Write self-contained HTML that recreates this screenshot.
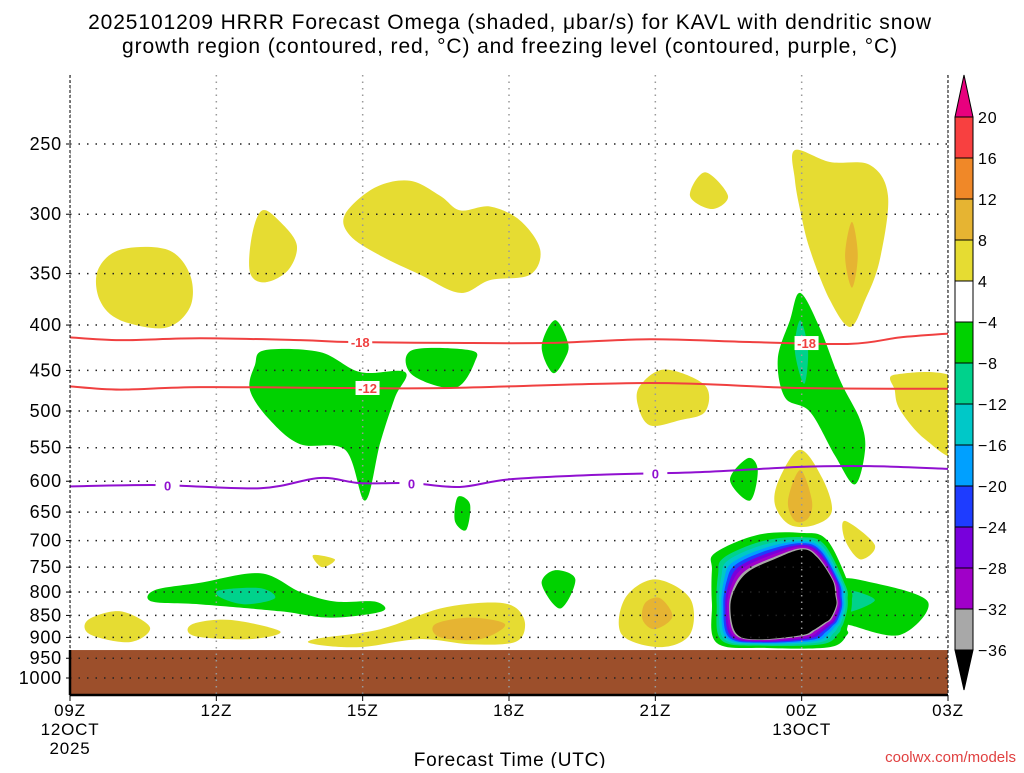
<!DOCTYPE html>
<html><head><meta charset="utf-8"><style>
body{margin:0;background:#fff;font-family:"Liberation Sans",sans-serif}
svg text{font-family:"Liberation Sans",sans-serif}
</style></head><body>
<svg id="c" width="1024" height="768" viewBox="0 0 1024 768">
<text x="510" y="29" font-size="21" letter-spacing="0.9" text-anchor="middle">2025101209 HRRR Forecast Omega (shaded, μbar/s) for KAVL with dendritic snow</text>
<text x="510" y="53" font-size="21" letter-spacing="0.9" text-anchor="middle">growth region (contoured, red, °C) and freezing level (contoured, purple, °C)</text>
<g id="plot"></g>
<text x="510" y="766" font-size="19" letter-spacing="0.8" text-anchor="middle">Forecast Time (UTC)</text>
<text x="1016" y="762" font-size="15" text-anchor="end" fill="#e04040">coolwx.com/models</text>
<g id="cbar"></g>
</svg>
<script>
const pTicks=[250,300,350,400,450,500,550,600,650,700,750,800,850,900,950,1000];
const hTicks=[0,3,6,9,12,15,18];
const hLabels=["09Z","12Z","15Z","18Z","21Z","00Z","03Z"];
const cbLabels=["20","16","12","8","4","−4","−8","−12","−16","−20","−24","−28","−32","−36"];
const cbColors=["#f84040","#f08828","#e6b432","#e6dc32","#ffffff","#00d200","#00d28c","#00c8c8","#00a0ff","#1e3cff","#7800dc","#a000c8","#a8a8a8"];
const groundP=930;
const yellowBlobs=[
[[0.57,347],[1.03,329],[2.0,329],[2.46,351],[2.46,382],[1.95,403],[1.03,395],[0.61,375]],
[[3.94,297],[4.31,306],[4.65,325],[4.47,347],[4.0,358],[3.69,349],[3.73,317]],
[[5.64,300],[6.25,280],[6.97,275],[7.59,286],[8.0,297],[8.61,294],[9.23,305],[9.64,329],[9.43,351],[8.61,356],[8.0,368],[7.18,351],[6.36,334],[5.74,317]],
[[13.02,269],[13.49,286],[13.16,296],[12.71,286]],
[[14.86,254],[15.58,262],[16.4,264],[16.77,286],[16.6,338],[16.3,375],[15.99,402],[15.58,375],[15.17,329],[14.97,297],[14.86,274]],
[[16.91,455],[18.2,462],[18.2,560],[17.53,538],[17.02,499],[16.91,474]],
[[11.69,468],[12.2,449],[13.02,468],[13.02,501],[12.51,512],[11.89,519],[11.64,492]],
[[14.97,553],[15.42,595],[15.62,648],[15.27,672],[14.76,672],[14.45,637],[14.55,595]],
[[15.89,665],[16.5,708],[16.2,735],[15.89,699]],
[[4.98,727],[5.43,735],[5.17,750]],
[[0.37,860],[1.03,841],[1.64,877],[1.23,911],[0.41,893]],
[[2.5,870],[3.28,860],[4.31,886],[3.69,904],[2.56,897]],
[[5.02,904],[6.36,881],[7.59,835],[8.61,822],[9.12,832],[9.33,870],[9.12,911],[8.2,916],[7.18,904],[5.95,923],[5.02,916]],
[[11.38,813],[11.99,774],[12.71,813],[12.71,893],[12.1,923],[11.31,893]]
];
const orangeBlobs=[
[[16.03,306],[16.15,334],[16.03,363],[15.89,334]],
[[14.97,583],[15.21,631],[15.13,661],[14.86,665],[14.72,631]],
[[7.48,870],[8.2,855],[8.92,870],[8.41,904],[7.59,900]],
[[11.79,823],[12.1,813],[12.35,853],[11.99,881],[11.74,860]]
];
const greenBlobs=[
[[3.79,444],[3.99,427],[5.12,429],[5.95,452],[6.87,452],[6.66,483],[6.36,543],[6.05,631],[5.64,553],[4.72,545],[4.1,512],[3.69,474]],
[[7.01,427],[8.2,427],[8.3,440],[7.89,471],[7.01,455]],
[[9.94,395],[10.21,419],[10.15,436],[9.9,453],[9.67,423]],
[[14.97,368],[15.38,404],[15.79,462],[16.2,512],[16.3,553],[16.09,605],[15.68,561],[15.17,501],[14.66,483],[14.51,437],[14.76,395]],
[[13.9,565],[14.1,583],[13.94,631],[13.53,598]],
[[7.95,625],[8.2,637],[8.12,681],[7.89,665]],
[[1.74,796],[2.67,781],[3.9,762],[4.72,800],[5.43,820],[6.25,820],[6.4,841],[5.33,855],[4.31,841],[2.67,826],[1.68,820]],
[[9.94,756],[10.36,774],[10.05,835],[9.67,783]],
[[15.7,778],[16.46,781],[17.59,821],[17.02,894],[16.0,872],[15.7,860]]
];
const tealBlobs=[
[[14.97,395],[15.13,427],[15.05,466],[14.86,427]],
[[3.08,796],[3.9,792],[4.2,813],[3.59,826],[3.08,811]],
[[15.8,795],[16.5,817],[15.8,845]]
];
const coreOuter=[[13.16,755],[13.22,723],[14.08,690],[14.97,686],[15.52,699],[15.99,790],[16.03,817],[16.01,842],[15.95,871],[15.93,882],[15.93,894],[15.58,923],[14.29,925],[13.26,913],[13.16,823]];
const coreInner=[[13.67,790],[13.94,759],[14.45,736],[15.01,717],[15.31,732],[15.62,775],[15.68,806],[15.70,827],[15.58,856],[15.44,867],[15.21,883],[14.97,894],[14.08,904],[13.67,890],[13.55,832]];
const line18=[[0,413],[1.03,416],[2.67,414],[4.72,416],[5.74,418],[7.79,419],[9.84,419],[11.89,415],[13.94,418],[15.99,420],[17.02,413],[18,409]];
const line12=[[0,469],[1.03,473],[2.67,470],[5.74,471],[7.79,471],[11.89,465],[14.97,471],[18,472]];
const line0=[[0,608],[1.85,606],[3.9,611],[5.12,595],[5.95,603],[6.97,603],[7.99,609],[9.02,597],[10.87,590],[12.92,586],[14.97,578],[16.4,577],[18,581]];
const lab18=[[5.95,"-18"],[15.1,"-18"]],lab12=[[6.1,"-12"]],lab0=[[2.0,"0"],[7.0,"0"],[12.0,"0"]];

const X0=70,X1=948,YT=75,YB=695;
const x=h=>X0+(X1-X0)*h/18;
const y=p=>144+385.2*Math.log(p/250);
const NS="http://www.w3.org/2000/svg";
const plot=document.getElementById('plot');
function mk(t,a,par){const e=document.createElementNS(NS,t);for(const k in a)e.setAttribute(k,a[k]);(par||plot).appendChild(e);return e;}
function smooth(pts){const P=pts.map(d=>[x(d[0]),y(d[1])]);const n=P.length;let s=`M${P[0][0]},${P[0][1]}`;
for(let i=0;i<n;i++){const p0=P[(i-1+n)%n],p1=P[i],p2=P[(i+1)%n],p3=P[(i+2)%n];
s+=`C${p1[0]+(p2[0]-p0[0])/6},${p1[1]+(p2[1]-p0[1])/6} ${p2[0]-(p3[0]-p1[0])/6},${p2[1]-(p3[1]-p1[1])/6} ${p2[0]},${p2[1]}`;}return s+'Z';}
function lineD(pts){const P=pts.map(d=>[x(d[0]),y(d[1])]);let s=`M${P[0][0]},${P[0][1]}`;
for(let i=0;i<P.length-1;i++){const p0=P[Math.max(i-1,0)],p1=P[i],p2=P[i+1],p3=P[Math.min(i+2,P.length-1)];
s+=`C${p1[0]+(p2[0]-p0[0])/6},${p1[1]+(p2[1]-p0[1])/6} ${p2[0]-(p3[0]-p1[0])/6},${p2[1]-(p3[1]-p1[1])/6} ${p2[0]},${p2[1]}`;}return s;}
const cp=mk('clipPath',{id:'cl'});mk('rect',{x:X0,y:YT,width:X1-X0,height:YB-YT},cp);
const g=mk('g',{'clip-path':'url(#cl)'});
function blobs(arr,col,nm){arr.forEach(b=>{const e=mk('path',{d:smooth(b),fill:col},g);

});}
blobs(yellowBlobs,'#e6dc32','omega-positive-area');
blobs(orangeBlobs,'#e6b432','omega-strong-positive-area');
blobs(greenBlobs,'#00d200','omega-negative-area');
blobs(tealBlobs,'#00d28c','omega-strong-negative-area');
const ringCols=['#00d200','#00d28c','#00c8c8','#00a0ff','#1e3cff','#7800dc','#a000c8','#a8a8a8','#000000'];
const ringT=[0,0.25,0.38,0.5,0.6,0.7,0.8,0.9,0.97];
ringT.forEach((t,i)=>{const pts=coreOuter.map((o,k)=>[o[0]+(coreInner[k][0]-o[0])*t,o[1]+(coreInner[k][1]-o[1])*t]);
const e=mk('path',{d:smooth(pts),fill:ringCols[i]},g);

});
const gr=mk('rect',{x:X0,y:y(groundP),width:X1-X0,height:YB-y(groundP),fill:'#9c4f2b'},g);


pTicks.forEach(p=>{const e=mk('line',{x1:X0,x2:X1,y1:y(p),y2:y(p),stroke:'#222','stroke-width':1.5,'stroke-dasharray':'1.5 7'},g);


const t=mk('text',{x:X0-8,y:y(p)+6,'font-size':18,'letter-spacing':'0.8','text-anchor':'end'});t.textContent=p;


mk('line',{x1:X0-4,x2:X0,y1:y(p),y2:y(p),stroke:'#000'});});
hTicks.forEach((h,i)=>{const e=mk('line',{x1:x(h),x2:x(h),y1:YT,y2:YB,stroke:'#999','stroke-width':1.5,'stroke-dasharray':'1.5 5'},g);


mk('line',{x1:x(h),x2:x(h),y1:YB,y2:YB+6,stroke:'#000'});
const t=mk('text',{x:x(h),y:716,'font-size':17,'letter-spacing':'0.8','text-anchor':'middle'});t.textContent=hLabels[i];

});
[["12OCT",0,735],["2025",0,754],["13OCT",15,735]].forEach(a=>{const t=mk('text',{x:x(a[1]),y:a[2],'font-size':17,'letter-spacing':'0.8','text-anchor':'middle'});t.textContent=a[0];

});
function cline(pts,col,labs,nm){const e=mk('path',{d:lineD(pts),fill:'none',stroke:col,'stroke-width':2},g);


labs.forEach(l=>{let k=0;while(k<pts.length-2&&pts[k+1][0]<l[0])k++;const a=pts[k],b=pts[k+1];const p=a[1]+(b[1]-a[1])*(l[0]-a[0])/(b[0]-a[0]);
mk('rect',{x:x(l[0])-12,y:y(p)-7,width:24,height:14,fill:'#fff'},g);
const t=mk('text',{x:x(l[0]),y:y(p)+5,'font-size':13,'font-weight':'bold','text-anchor':'middle',fill:col},g);t.textContent=l[1];

});}
cline(line18,'#f04040',lab18,'contour-minus-18');
cline(line12,'#f04040',lab12,'contour-minus-12');
cline(line0,'#9010d0',lab0,'freezing-level-contour');
mk('line',{x1:X0,x2:X0,y1:YT,y2:YB,stroke:'#000','stroke-width':1,'stroke-dasharray':'3 2'});
mk('line',{x1:X1,x2:X1,y1:YT,y2:YB,stroke:'#000','stroke-width':1,'stroke-dasharray':'3 2'});
mk('line',{x1:X0,x2:X1,y1:YB,y2:YB,stroke:'#000','stroke-width':2.5});
mk('line',{x1:X0,x2:X0,y1:YB-45,y2:YB,stroke:'#000','stroke-width':2.5});
const cb=document.getElementById('cbar');const cx=955,cw=18,ct=117,ch=41;
mk('path',{d:`M${cx},${ct} L${cx+cw/2},75 L${cx+cw},${ct}Z`,fill:'#e8007e',stroke:'#000'},cb);
cbColors.forEach((c,i)=>{const r=mk('rect',{x:cx,y:ct+i*ch,width:cw,height:ch,fill:c,stroke:'#000'},cb);

});
const yb=ct+cbColors.length*ch;
mk('path',{d:`M${cx},${yb} L${cx+cw/2},690 L${cx+cw},${yb}Z`,fill:'#000',stroke:'#000'},cb);
cbLabels.forEach((l,i)=>{const t=mk('text',{x:cx+cw+5,y:ct+i*ch+6,'font-size':16,'letter-spacing':'0.8'},cb);t.textContent=l;

});
</script>
</body></html>
